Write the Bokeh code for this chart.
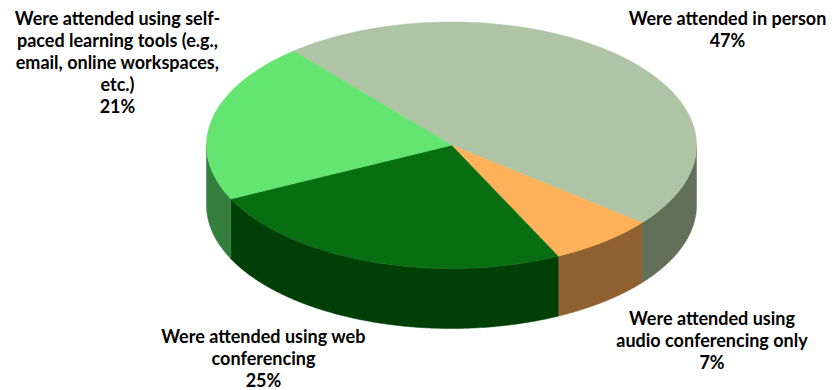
import numpy as np
from bokeh.embed import file_html
from bokeh.models import ColumnDataSource, Range1d
from bokeh.plotting import figure
from bokeh.resources import INLINE
from bokeh.core.properties import value

# Attendance modes, clockwise from the start angle
categories = [
    "Were attended in person",
    "Were attended using audio conferencing only",
    "Were attended using web conferencing",
    "Were attended using self-paced learning tools (e.g., email, online workspaces, etc.)",
]
shares = [47, 7, 25, 21]
top_colors = ["#AFC4A5", "#FFB259", "#076F12", "#64E572"]
wall_colors = ["#62705A", "#8F6130", "#003F06", "#347F3E"]

label_lines = [
    ["Were attended in person", "47%"],
    ["Were attended using", "audio conferencing only", "7%"],
    ["Were attended using web", "conferencing", "25%"],
    ["Were attended using self-", "paced learning tools (e.g.,", "email, online workspaces,", "etc.)", "21%"],
]
label_centers = [(727, 17.5), (711.5, 317.5), (263, 335), (117, 17.5)]
LINE_STEP = 22

# Pixel geometry of the tilted disc
CX, CY, RX, RY, DEPTH = 451, 144.75, 245, 123.25, 60
START_DEG = 130.2


def rim(a0, a1, n=120):
    t = np.radians(np.linspace(a0, a1, n))
    return CX + RX * np.cos(t), CY - RY * np.sin(t)


p = figure(
    width=832, height=390, output_backend="svg", toolbar_location=None,
    x_range=Range1d(0, 832), y_range=Range1d(390, 0),
    min_border=0, outline_line_color=None, background_fill_color="white",
)
p.axis.visible = False
p.grid.visible = False

# Slice boundaries, running clockwise (decreasing angle)
spans = []
a = START_DEG
for s in shares:
    b = a - s * 3.6
    spans.append((a, b))
    a = b

# Side walls: only the part of each slice on the near half of the rim shows
wall_x, wall_y, wall_c = [], [], []
for (a0, a1), c in zip(spans, wall_colors):
    for k in range(-1, 1):
        lo, hi = -180 + 360 * k, 0 + 360 * k
        v0, v1 = min(a0, hi), max(a1, lo)
        if v0 > v1:
            x, y = rim(v0, v1)
            wall_x.append(np.concatenate([x, x[::-1]]))
            wall_y.append(np.concatenate([y, y[::-1] + DEPTH]))
            wall_c.append(c)
p.patches("x", "y", source=ColumnDataSource(dict(x=wall_x, y=wall_y, c=wall_c)),
          fill_color="c", line_color="c", line_width=0.5)

# Top face
top_x, top_y = [], []
for a0, a1 in spans:
    x, y = rim(a0, a1, 200)
    top_x.append(np.concatenate([[CX], x]))
    top_y.append(np.concatenate([[CY], y]))
p.patches("x", "y", source=ColumnDataSource(dict(x=top_x, y=top_y, c=top_colors)),
          fill_color="c", line_color="c", line_width=0.5)

# Labels, one text per line
tx, ty, tt = [], [], []
for lines, (lx, ly) in zip(label_lines, label_centers):
    for i, line in enumerate(lines):
        tx.append(lx)
        ty.append(ly + i * LINE_STEP)
        tt.append(line)
p.text("x", "y", text="t", source=ColumnDataSource(dict(x=tx, y=ty, t=tt)),
       text_font=value("Lato"), text_font_style="bold", text_font_size="18px",
       text_color="#000000", text_align="center", text_baseline="middle")

open("out.html", "w").write(file_html(p, INLINE))
